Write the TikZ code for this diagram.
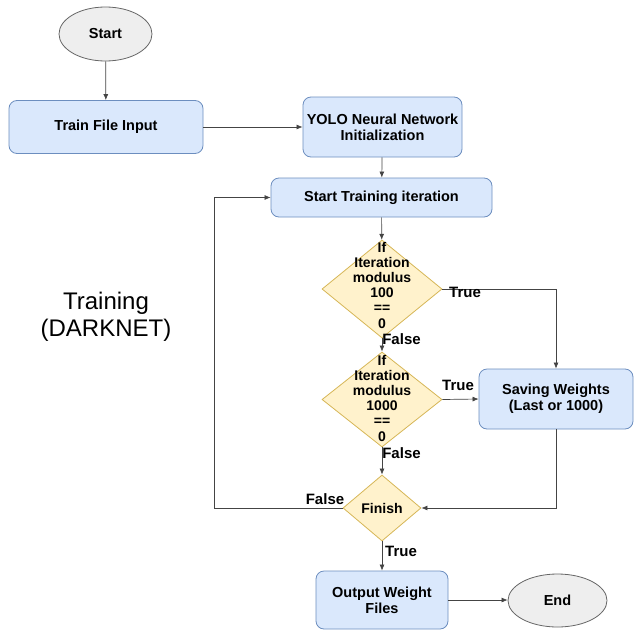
\documentclass[tikz,border=0pt]{standalone}
\usepackage{fontspec}
\setmainfont{Liberation Sans}
\usetikzlibrary{shapes.geometric,arrows.meta}
\definecolor{boxfill}{HTML}{DAE8FC}
\definecolor{boxline}{HTML}{6C8EBF}
\definecolor{dfill}{HTML}{FFF2CC}
\definecolor{dline}{HTML}{D6B656}
\definecolor{efill}{HTML}{EEEEEE}
\definecolor{eline}{HTML}{666666}
\definecolor{conn}{HTML}{444444}
\begin{document}
\begin{tikzpicture}[x=1pt,y=-1pt,
  box/.style={draw=boxline, fill=boxfill, rounded corners=8pt, line width=0.8pt,
    font=\bfseries\fontsize{14.5}{16}\selectfont, align=center, inner sep=0pt},
  oval/.style={ellipse, draw=eline, fill=efill, line width=0.8pt,
    font=\bfseries\fontsize{14.5}{16}\selectfont, inner sep=0pt},
  dia/.style={diamond, draw=dline, fill=dfill, line width=0.8pt, inner sep=0pt},
  dtext/.style={font=\bfseries\fontsize{14}{15.2}\selectfont, align=center, inner sep=0pt},
  lbl/.style={font=\bfseries\fontsize{15}{16}\selectfont, inner sep=0pt},
  arr/.style={draw=conn, line width=0.7pt, -{Latex[length=6pt,width=5pt]}}]
\useasboundingbox (0,0) rectangle (634,629);
\node[oval, minimum width=93pt, minimum height=54pt] (start) at (105.5,34) {Start};
\node[box, minimum width=194pt, minimum height=53pt] (train) at (106,127) {Train File Input};
\node[box, minimum width=159pt, minimum height=60pt] (yolo) at (382.5,127) {YOLO Neural Network\\Initialization};
\node[box, minimum width=221pt, minimum height=39pt] (sti) at (381.5,197.5) {Start Training iteration};
\node[dia, minimum width=120pt, minimum height=98pt] (d1) at (382,289) {};
\node[dtext] at (382,285) {If\\Iteration\\modulus\\100\\==\\0};
\node[dia, minimum width=120pt, minimum height=95pt] (d2) at (382,399.5) {};
\node[dtext] at (382,398) {If\\Iteration\\modulus\\1000\\==\\0};
\node[box, minimum width=154pt, minimum height=60pt] (save) at (556,399) {Saving Weights\\(Last or 1000)};
\node[dia, minimum width=78pt, minimum height=66pt, font=\bfseries\fontsize{14}{15}\selectfont] (fin) at (382,508) {Finish};
\node[box, minimum width=132pt, minimum height=58pt] (out) at (382,600) {Output Weight\\Files};
\node[oval, minimum width=99pt, minimum height=53pt] (end) at (557.5,600.5) {End};
\node[font=\fontsize{24}{27}\selectfont, align=center, inner sep=0pt] (title) at (106,316.5) {Training\\(DARKNET)};
\coordinate (loop) at (214,508);
\draw[arr] (start) -- (train);
\draw[arr] (train) -- (yolo);
\draw[arr] (yolo) -- (sti);
\draw[arr] (sti) -- (d1);
\draw[arr] (d1) -- (d2);
\draw[arr] (d1.east) -| (save.north);
\draw[arr] (d2.east) -- (save.west);
\draw[arr] (d2) -- (fin);
\draw[arr] (save.south) |- (fin.east);
\draw[arr] (fin.west) -- (loop) |- (sti.west);
\draw[arr] (fin) -- (out);
\draw[arr] (out.east) -- (out.east -| end.west);
\node[lbl] (t1) at (465,292) {True};
\node[lbl] (f1) at (401.5,339) {False};
\node[lbl] (t2) at (458,385) {True};
\node[lbl] (f2) at (401.5,453) {False};
\node[lbl] (f3) at (325,499) {False};
\node[lbl] (t3) at (401,551) {True};
\end{tikzpicture}
\end{document}
